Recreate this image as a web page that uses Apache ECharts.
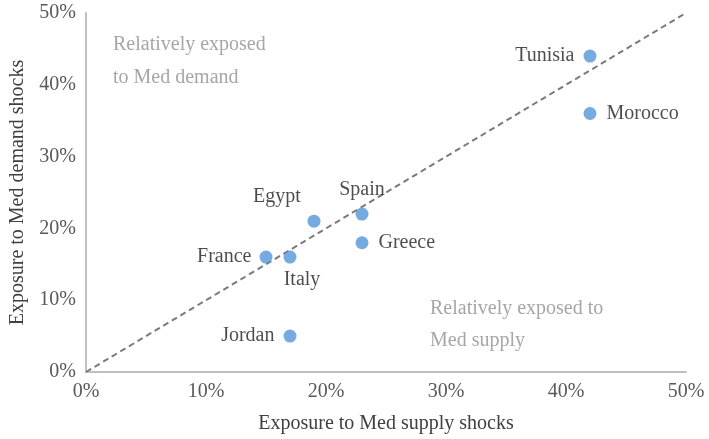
<!DOCTYPE html>
<html><head><meta charset="utf-8">
<script src="https://cdn.jsdelivr.net/npm/echarts@6/dist/echarts.min.js"></script>
<style>html,body{margin:0;padding:0;background:#fff}#c{width:709px;height:439px}</style>
</head><body><div id="c"></div>
<script>
const countries = ['Tunisia','Morocco','Spain','Greece','Egypt','France','Italy','Jordan'];
const supplyExposure = [42, 42, 23, 23, 19, 15, 17, 17];
const demandExposure = [44, 36, 22, 18, 21, 16, 16, 5];
const axisTicks = [0, 10, 20, 30, 40, 50];
const diagonal = [[0,0],[50,50]];

const labelPos = {
  Tunisia:{position:'left',distance:9},
  Morocco:{position:'right',distance:10},
  Spain:{position:'top',distance:8},
  Greece:{position:'right',distance:10},
  Egypt:{position:'top',distance:8,offset:[-37,0]},
  France:{position:'left',distance:8},
  Italy:{position:'bottom',distance:6,offset:[12,0]},
  Jordan:{position:'left',distance:9}
};
const FONT = '"Liberation Serif","Times New Roman",serif';
const FS = 20;
const chart = echarts.init(document.getElementById('c'));
const pts = countries.map((c,i)=>({
  value:[supplyExposure[i], demandExposure[i]], name:c,
  label:Object.assign({show:true, formatter:'{b}', color:'#1f1f1f', fontFamily:FONT, fontSize:FS}, labelPos[c])
}));
chart.setOption({
  animation:false,
  grid:{left:84,right:23,top:13,bottom:64},
  xAxis:{type:'value',min:axisTicks[0],max:axisTicks[axisTicks.length-1],interval:10,
    name:'Exposure to Med supply shocks',nameLocation:'middle',nameGap:42,
    nameTextStyle:{fontFamily:FONT,fontSize:FS,color:'#404040'},
    axisLine:{lineStyle:{color:'#bfbfbf',width:2}},axisTick:{show:false},splitLine:{show:false},
    axisLabel:{formatter:'{value}%',fontFamily:FONT,fontSize:FS,color:'#595959',margin:10}},
  yAxis:{type:'value',min:axisTicks[0],max:axisTicks[axisTicks.length-1],interval:10,
    name:'Exposure to Med demand shocks',nameLocation:'middle',nameGap:58,
    nameTextStyle:{fontFamily:FONT,fontSize:FS,color:'#404040'},
    axisLine:{show:true,lineStyle:{color:'#bfbfbf',width:2}},axisTick:{show:false},splitLine:{show:false},
    axisLabel:{formatter:'{value}%',fontFamily:FONT,fontSize:FS,color:'#595959',margin:10}},
  graphic:[
    {type:'text',left:113,top:28,style:{text:'Relatively exposed\nto Med demand',font:FS+'px '+FONT,fill:'#a6a6a6',lineHeight:33}},
    {type:'text',left:430,top:293,style:{text:'Relatively exposed to\nMed supply',font:FS+'px '+FONT,fill:'#a6a6a6',lineHeight:32}}
  ],
  series:[
    {type:'line',data:diagonal,symbol:'none',silent:true,
     lineStyle:{color:'#7a7a7a',width:2,type:[6,4]},z:1},
    {type:'scatter',data:pts,symbolSize:13,itemStyle:{color:'#5296da'},z:2}
  ]
});
</script></body></html>
